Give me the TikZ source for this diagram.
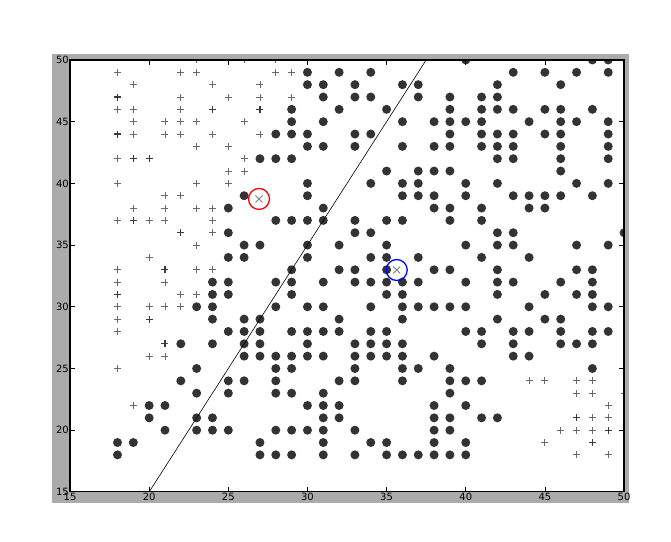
\documentclass[tikz,border=0pt]{standalone}
\usepackage{fontspec}
\setmainfont{DejaVu Sans}
\definecolor{framegray}{HTML}{ABABAB}
\definecolor{dotgray}{HTML}{333333}
\definecolor{plusgray}{HTML}{6A6A6A}
\definecolor{darkplus}{HTML}{3A3A3A}
\tikzset{
	dotmark/.style={fill=dotgray},
	plusmark/.style={draw=plusgray, line width=0.9pt},
	darkplusmark/.style={draw=darkplus, line width=1.2pt},
	xmark/.style={draw=gray, line width=0.9pt},
	ticklabel/.style={inner sep=1pt, font=\fontsize{10}{12}\selectfont}
}
\begin{document}
\begin{tikzpicture}[x=15.83pt, y=12.34pt]
	\useasboundingbox (10.578,10.948) rectangle (52.966,54.862);
	\fill[framegray] (13.863,14.109) rectangle (50.316,50.486);
	\fill[white] (15,15) rectangle (50,50);
	\begin{scope}
	\clip (15,15) rectangle (50,50);
	\foreach \y/\xs in {50/{40,48,49}, 49/{30,32,34,43,45,47,49}, 48/{30,31,33,36,37,42,46},
		47/{31,33,34,37,39,41,42}, 46/{29,32,35,39,41,42,43,45,46,48},
		45/{29,31,36,38,39,40,41,44,46,47,49}, 44/{28,29,30,33,34,39,41,42,43,45,46,49},
		43/{30,31,33,36,38,39,41,42,43,46,49}, 42/{27,28,29,42,43,46,49}, 41/{35,37,38,39,46},
		40/{30,34,36,37,40,42,47,49}, 39/{26,30,36,37,38,40,43,44,45,46,48},
		38/{25,31,38,39,41,44,45}, 37/{28,29,30,31,33,35,36,39,41}, 36/{25,33,34,42,43,50},
		35/{26,27,30,32,35,40,42,43,47,49}, 34/{25,26,30,34,35,37,41,44},
		33/{29,32,33,35,38,39,42,47,48}, 32/{24,25,28,29,31,33,34,35,36,37,40,42,43,46,48},
		31/{24,25,29,35,36,42,45,47,48}, 30/{23,24,28,30,31,34,36,37,38,39,40,44,48,49},
		29/{24,26,27,32,36,42,45,46}, 28/{25,26,27,29,30,31,32,34,35,40,41,43,44,46,48,49},
		27/{22,24,26,27,30,33,34,35,36,41,43,46,47,48}, 26/{26,27,28,29,30,31,33,34,35,36,38,43,44},
		25/{23,28,29,33,36,37,39,48}, 24/{22,25,26,28,32,33,36,39,40,41}, 23/{23,25,28,29,31,39},
		22/{20,21,30,31,32,38,40}, 21/{20,23,24,31,32,38,39,41,42}, 20/{21,23,24,25,28,29,30,31,33,38,39},
		19/{18,19,27,31,34,35,38,40}, 18/{18,27,28,29,31,33,35,36,37,38,39,40}}
		\foreach \x in \xs
			\fill[dotmark] (\x,\y) circle (4.5pt);
	\foreach \y/\xs in {50/{23,26,28}, 49/{18,22,23,28,29}, 48/{19,24,27}, 47/{22,25,27,29},
		46/{18,19,22}, 45/{19,21,22,23,26}, 44/{19,21,22,24,27}, 43/{23,25}, 42/{18,26},
		41/{25,26}, 40/{18,23,25}, 39/{21,22}, 38/{19,21,23,24}, 37/{18,20,21,24}, 36/{24},
		35/{23}, 34/{20}, 33/{18,23,24}, 32/{18,21}, 31/{22,23}, 30/{18,20,21,22}, 29/{18},
		28/{18}, 26/{20,21}, 25/{18}, 24/{44,45,47,48}, 23/{47,48,50}, 22/{19,49},
		21/{48,49}, 20/{46,47,48}, 19/{45}, 18/{47,49}}
		\foreach \x in \xs
			\draw[plusmark] (\x,\y) +(-3.5pt,0) -- +(3.5pt,0) +(0,-3.5pt) -- +(0,3.5pt);
	\foreach \x/\y in {18/47, 24/46, 27/46, 18/44, 19/42, 20/42, 19/37, 22/36, 21/33, 18/31, 20/29, 21/27, 47/21, 49/20, 48/19}
		\draw[darkplusmark] (\x,\y) +(-3.5pt,0) -- +(3.5pt,0) +(0,-3.5pt) -- +(0,3.5pt);
	\draw[line width=0.6pt] (20,15) -- (37.5,50);
	\draw[xmark] (26.94,38.74) +(-3.5pt,-3.5pt) -- +(3.5pt,3.5pt) +(-3.5pt,3.5pt) -- +(3.5pt,-3.5pt);
	\draw[xmark] (35.64,32.98) +(-3.5pt,-3.5pt) -- +(3.5pt,3.5pt) +(-3.5pt,3.5pt) -- +(3.5pt,-3.5pt);
	\draw[red, line width=1.3pt] (26.94,38.74) circle (10.5pt);
	\draw[blue, line width=1.3pt] (35.64,32.98) circle (10.5pt);
	\end{scope}
	\foreach \t in {20,25,...,45} {
		\draw[line width=0.6pt] (\t,15) -- ++(0,5pt) (\t,50) -- ++(0,-5pt);
		\draw[line width=0.6pt] (15,\t) -- ++(5pt,0) (50,\t) -- ++(-5pt,0);
	}
	\draw[line width=1.2pt] (15,15) rectangle (50,50);
	\foreach \t in {15,20,...,50} {
		\node[ticklabel, anchor=north] (xl\t) at (\t,15) {\t};
		\node[ticklabel, anchor=east] (yl\t) at (15,\t) {\t};
	}
\end{tikzpicture}
\end{document}
